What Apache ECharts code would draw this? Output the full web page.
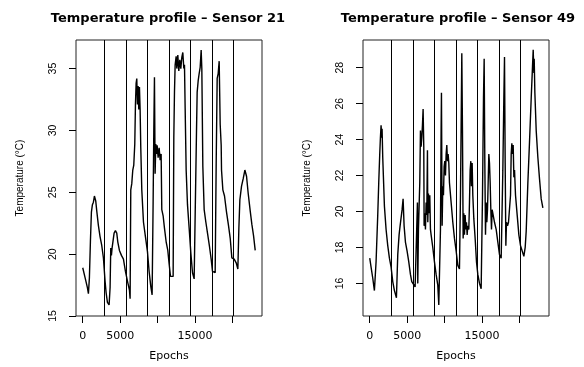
<!DOCTYPE html>
<html>
<head>
<meta charset="utf-8">
<script src="https://cdn.jsdelivr.net/npm/echarts@6/dist/echarts.min.js"></script>
<style>
html,body{margin:0;padding:0;background:#fff;}
#chart{width:584px;height:367px;}
</style>
</head>
<body>
<div id="chart"></div>
<script>
// ---- data ----
const sensor21Epochs = [0,312,624,758,891,1025,1159,1293,1426,1560,1649,1738,1872,2095,2318,2540,2763,2986,3120,3298,3521,3655,3744,3833,3922,4056,4190,4368,4546,4680,4903,5170,5438,5705,6017,6240,6329,6418,6552,6686,6819,6953,7042,7131,7220,7309,7399,7488,7577,7666,7755,7889,8112,8379,8647,8869,9092,9270,9404,9493,9582,9671,9760,9849,9939,10073,10206,10340,10474,10563,10741,10920,11143,11365,11544,11722,12079,12168,12257,12346,12480,12569,12703,12836,12970,13104,13237,13371,13505,13594,13683,13817,13995,14218,14441,14664,14886,15109,15198,15288,15421,15555,15689,15822,15911,16045,16223,16446,16669,16937,17159,17338,17694,17828,17962,18095,18229,18363,18497,18541,18719,18942,19210,19477,19700,19923,20235,20502,20725,20859,20993,21216,21439,21662,21884,22107,22374,22597,22820,23043];
const sensor21Temps = [18.9,18.1,17.3,16.8,18.1,21.0,23.4,24.0,24.2,24.7,24.8,24.3,23.5,22.3,21.4,20.7,19.7,17.8,16.9,16.1,15.9,17.3,20.5,19.9,20.5,21.1,21.7,21.9,21.7,21.0,20.3,19.9,19.6,18.6,17.7,17.1,16.4,25.2,25.7,26.8,27.2,28.9,32.1,33.8,34.2,32.1,33.6,31.7,33.5,31.7,28.6,25.2,22.6,21.4,20.2,18.6,17.4,16.7,24.2,29.9,34.3,26.5,28.9,28.1,28.8,27.8,28.6,27.6,28.1,23.6,23.1,22.1,21.0,20.3,19.2,18.2,18.2,29.4,33.1,35.3,36.0,35.0,36.1,34.8,35.7,35.0,35.9,36.3,35.0,35.3,31.8,26.8,24.0,22.1,20.1,18.5,18.0,17.9,29.9,33.1,34.0,34.6,35.1,36.5,35.0,27.1,23.6,22.6,21.7,20.6,19.6,18.6,18.5,27.3,34.2,34.6,35.6,30.5,28.8,26.8,25.2,24.7,23.4,22.3,21.3,19.7,19.6,19.3,18.8,22.1,24.4,25.5,26.1,26.8,26.3,24.9,23.5,22.4,21.5,20.3];

const sensor49Epochs = [0,178,401,624,847,1070,1203,1337,1426,1515,1604,1649,1738,1961,2184,2407,2630,2853,3075,3298,3566,3744,3922,4056,4190,4323,4457,4591,4769,4992,5215,5438,5616,5839,6062,6329,6373,6418,6507,6686,6775,6864,6953,7042,7131,7220,7265,7354,7443,7532,7621,7711,7755,7844,7933,8023,8112,8201,8424,8647,8869,9092,9226,9360,9449,9538,9582,9672,9761,9850,9939,10028,10117,10207,10296,10385,10474,10563,10652,10875,11098,11321,11544,11766,11989,12123,12212,12301,12390,12480,12569,12658,12747,12836,12925,13014,13104,13237,13326,13416,13505,13594,13683,13772,13906,14084,14262,14441,14664,14886,15065,15198,15288,15377,15466,15555,15644,15733,15822,15911,16000,16090,16179,16268,16357,16491,16669,16892,17115,17337,17560,17783,17917,18006,18095,18185,18274,18408,18541,18675,18809,18898,18987,19076,19165,19255,19344,19477,19700,19923,20146,20369,20591,20769,20903,21126,21349,21572,21750,21839,21928,21973,22062,22240,22463,22686,22909,23132];
const sensor49Temps = [17.4,16.9,16.3,15.6,17.2,19.8,21.6,23.2,24.1,24.8,24.1,24.6,23.0,20.3,19.0,18.1,17.4,16.9,16.1,15.6,15.2,17.6,18.7,19.2,19.3,20.1,20.7,19.2,18.3,17.8,17.2,16.5,16.1,16.0,15.8,15.8,20.5,16.0,19.0,21.6,24.5,23.6,24.1,24.8,25.7,23.6,19.2,19.9,19.0,20.5,19.8,23.4,19.4,21.0,19.9,20.9,19.0,18.7,18.0,17.2,16.5,15.9,14.8,14.9,19.0,24.7,26.6,19.2,21.4,20.9,22.5,22.8,22.0,23.2,23.7,22.8,23.2,22.7,21.6,20.5,19.4,18.5,17.8,17.0,16.8,20.9,24.8,28.8,24.5,18.5,19.9,18.7,19.8,19.0,19.4,18.7,19.2,19.0,20.5,22.3,22.8,21.4,22.7,20.9,19.6,18.5,17.2,16.5,16.0,15.7,20.9,26.3,28.5,22.7,18.7,20.5,19.4,20.1,21.6,23.2,22.7,21.6,20.1,19.0,20.1,19.8,19.4,19.0,18.3,17.6,17.4,22.3,26.3,28.6,22.7,18.1,19.4,19.2,19.4,19.3,20.9,23.2,23.8,23.2,23.7,21.9,22.3,20.9,19.8,18.7,18.1,17.8,17.5,18.0,18.9,21.6,23.9,26.3,28.1,29.0,27.7,28.5,26.6,24.5,23.0,21.8,20.7,20.2];

const dayBoundaries = [2880,5760,8640,11520,14400,17280,20160];
const xTickValues = [0,5000,10000,15000,20000];
const xLabelValues = [0,5000,15000];
const y21TickValues = [15,20,25,30,35];
const y49TickValues = [16,18,20,22,24,26,28];
const titles = ['Temperature profile \u2013 Sensor 21','Temperature profile \u2013 Sensor 49'];
const xName = 'Epochs';
const yName = 'Temperature (\u00b0C)';

// ---- chart ----
const zip = (xs, ys) => xs.map((x, i) => [x, ys[i]]);
const chart = echarts.init(document.getElementById('chart'), null, {renderer: 'canvas'});

const grids = [
  {left: 76, top: 40, width: 186, height: 283},
  {left: 363, top: 40, width: 186, height: 283}
];
const yRanges = [[15, 37.31], [14.185, 29.54]];
const yTicks = [y21TickValues, y49TickValues];
const plain = v => String(v);

function xAxisFor(i) {
  return {
    type: 'value', gridIndex: i, min: -900, max: 23950,
    name: xName, nameLocation: 'middle', nameGap: 35,
    nameTextStyle: {fontFamily: 'DejaVu Sans', fontSize: 11, color: '#000'},
    axisLine: {show: false, onZero: false},
    axisTick: {show: true, inside: false, length: 7, lineStyle: {color: '#000', width: 1}, customValues: xTickValues},
    axisLabel: {show: true, margin: 15, fontFamily: 'DejaVu Sans', fontSize: 11, color: '#000', customValues: xLabelValues, formatter: plain},
    splitLine: {show: false}
  };
}
function yAxisFor(i) {
  return {
    type: 'value', gridIndex: i, min: yRanges[i][0], max: yRanges[i][1],
    name: yName, nameLocation: 'middle', nameGap: 51, nameRotate: 90,
    nameTextStyle: {fontFamily: 'Liberation Sans', fontSize: 10, color: '#000'},
    axisLine: {show: false, onZero: false},
    axisTick: {show: true, inside: false, length: 7, lineStyle: {color: '#000', width: 1}, customValues: yTicks[i]},
    axisLabel: {show: true, rotate: 90, margin: 17, fontFamily: 'Liberation Sans', fontSize: 10.5, color: '#000', customValues: yTicks[i], formatter: plain},
    splitLine: {show: false}
  };
}

const titleStyle = {fontFamily: 'DejaVu Sans', fontWeight: 'bold', fontSize: 13, color: '#000'};
const option = {
  backgroundColor: '#fff',
  animation: false,
  title: [
    {text: titles[0], left: 163, top: 7, textAlign: 'center', textStyle: titleStyle},
    {text: titles[1], left: 453, top: 7, textAlign: 'center', textStyle: titleStyle}
  ],
  grid: grids.map(g => Object.assign({show: true, borderColor: '#222', borderWidth: 1, backgroundColor: 'transparent'}, g)),
  xAxis: [xAxisFor(0), xAxisFor(1)],
  yAxis: [yAxisFor(0), yAxisFor(1)],
  series: [
    {data: zip(sensor21Epochs, sensor21Temps), xAxisIndex: 0, yAxisIndex: 0},
    {data: zip(sensor49Epochs, sensor49Temps), xAxisIndex: 1, yAxisIndex: 1}
  ].map(s => Object.assign({
    type: 'line', showSymbol: false, symbol: 'none', silent: true,
    lineStyle: {color: '#000', width: 1.4},
    markLine: {
      silent: true, symbol: 'none', label: {show: false},
      lineStyle: {color: '#000', width: 1, type: 'solid'},
      data: dayBoundaries.map(v => ({xAxis: v}))
    }
  }, s))
};
chart.setOption(option);
</script>
</body>
</html>
